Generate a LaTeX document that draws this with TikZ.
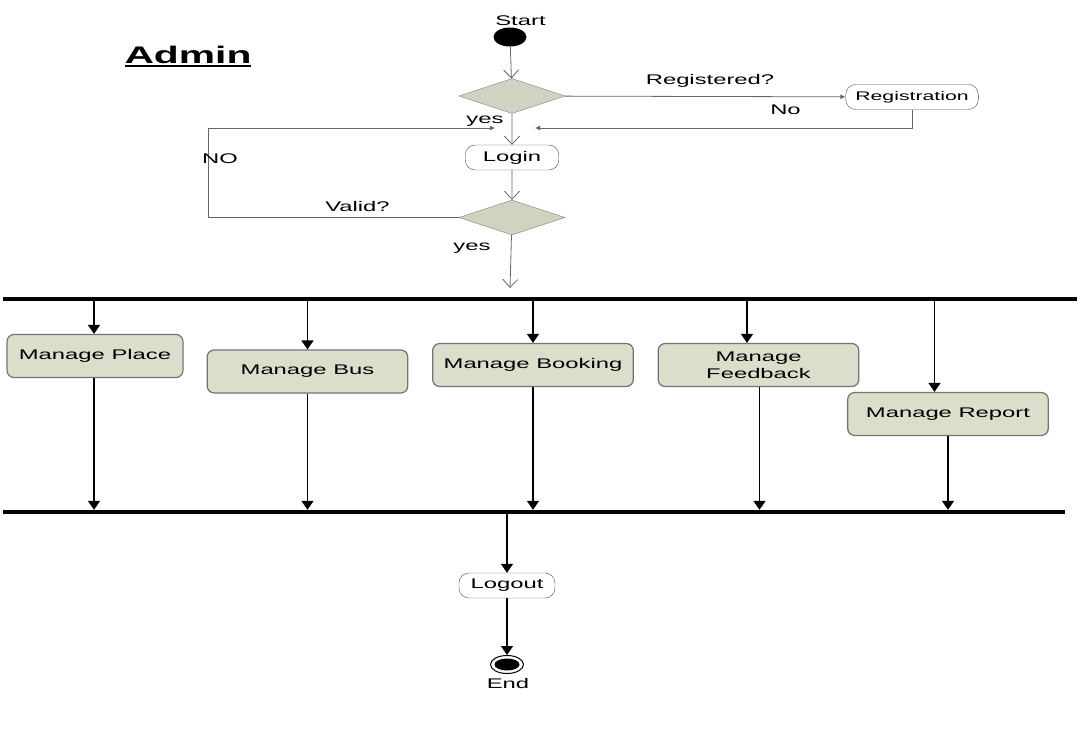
\documentclass[tikz,border=0pt]{standalone}
\usepackage{fontspec}
\setmainfont{Liberation Sans}
\usetikzlibrary{arrows.meta,shapes.geometric}

\definecolor{boxfill}{HTML}{DCDECB}
\tikzset{
  wide/.style={xscale=1.7, transform shape},
  txt/.style={wide, font=\fontsize{14}{17}\selectfont, inner sep=0pt},
  pill/.style={txt, draw=black!70, fill=white, rounded corners=10pt, minimum height=25pt, inner sep=3pt},
  activity/.style={txt, draw=black!55, line width=1.2pt, fill=boxfill, rounded corners=7pt, minimum height=43pt, align=center, inner sep=3pt},
  decision/.style={diamond, draw=black!50, fill=boxfill!95!black, minimum width=106pt, minimum height=35pt, inner sep=0pt},
  flow/.style={draw=black!60, line width=0.8pt, -{Straight Barb[length=8pt,width=15pt]}},
  back/.style={draw=black!60, line width=0.8pt, -{Latex[length=5pt,width=5pt]}},
  fork/.style={line width=1.6pt, -{Triangle[length=9pt,width=12pt]}},
  bar/.style={fill=black, minimum height=4pt, inner sep=0pt},
}

\begin{document}
\begin{tikzpicture}[x={(1pt,0pt)}, y={(0pt,-1pt)}]
  \useasboundingbox (0,0) rectangle (1080,744); % page size

  \node[wide, anchor=base, inner sep=0pt, font=\bfseries\fontsize{24}{28}\selectfont] (title) at (188,63)
    {\vtop{\hbox{Admin}\kern1.5pt\hrule height 2.2pt}};

  % login part
  \node[txt] (startlbl) at (520.5,21) {Start};
  \node[ellipse, fill=black, minimum width=33pt, minimum height=19pt, inner sep=0pt] (start) at (510,37) {};
  \node[decision] (regq) at (512,96) {};
  \node[pill, minimum width=78pt, font=\fontsize{12.5}{15}\selectfont] (reg) at (912,97) {Registration};
  \node[pill, minimum width=55pt] (login) at (512,157.5) {Login};
  \node[decision] (valid) at (512,217.5) {};
  \coordinate (regin) at (535,128);
  \coordinate (nocorner) at (208,128);
  \coordinate (noin) at (495,128);
  \coordinate (validout) at (510,288);

  \draw[flow] (start) -- (regq);
  \draw[flow] (regq) -- (login);
  \draw[flow] (login) -- (valid);
  \draw[flow] (valid) -- (validout);
  \draw[back] (regq) -- (reg);
  \draw[back] (reg.south) |- (regin);
  \draw[back] (valid.west) -| (nocorner) -- (noin);

  \node[txt] (regd) at (710,81) {Registered?};
  \node[txt] (regno) at (785.5,110) {No};
  \node[txt] (regyes) at (485,121) {yes};
  \node[txt] (validno) at (220,159) {NO};
  \node[txt] (validq) at (357.5,206) {Valid?};
  \node[txt] (validyes) at (472,248) {yes};

  % fork and join
  \node[bar, minimum width=1074pt] (forkbar) at (540,299) {};
  \node[bar, minimum width=1062pt] (joinbar) at (534,512) {};

  \foreach \n/\x/\y/\w/\t in {place/95/356/103.5/{Manage Place}, bus/307.5/371.5/118/{Manage Bus},
      booking/533/365/118/{Manage Booking}, feedback/758.5/365/118/{Manage\\Feedback},
      report/948/414/118/{Manage Report}}
    \node[activity, minimum width=\w pt] (\n) at (\x,\y) {\t};

  \foreach \n/\a/\b in {place/-1/-1, bus/0/0, booking/0/0, feedback/-11.5/1, report/-13.5/0} {
    \draw[fork] ([xshift=\a pt]\n.north |- forkbar.south) -- ([xshift=\a pt]\n.north);
    \draw[fork] ([xshift=\b pt]\n.south) -- ([xshift=\b pt]\n.south |- joinbar.north);
  }

  % logout
  \node[pill, minimum width=56.5pt] (logout) at (507,585.5) {Logout};
  \node[ellipse, draw, line width=1pt, minimum width=33pt, minimum height=18pt, inner sep=0pt] (endring) at (507,664.5) {};
  \node[ellipse, fill=black, minimum width=25pt, minimum height=12pt, inner sep=0pt] (enddot) at (endring) {};
  \node[txt] (endlbl) at (508,683) {End};

  \draw[fork] (joinbar.south -| logout.north) -- (logout);
  \draw[fork] (logout) -- (endring);
\end{tikzpicture}
\end{document}
